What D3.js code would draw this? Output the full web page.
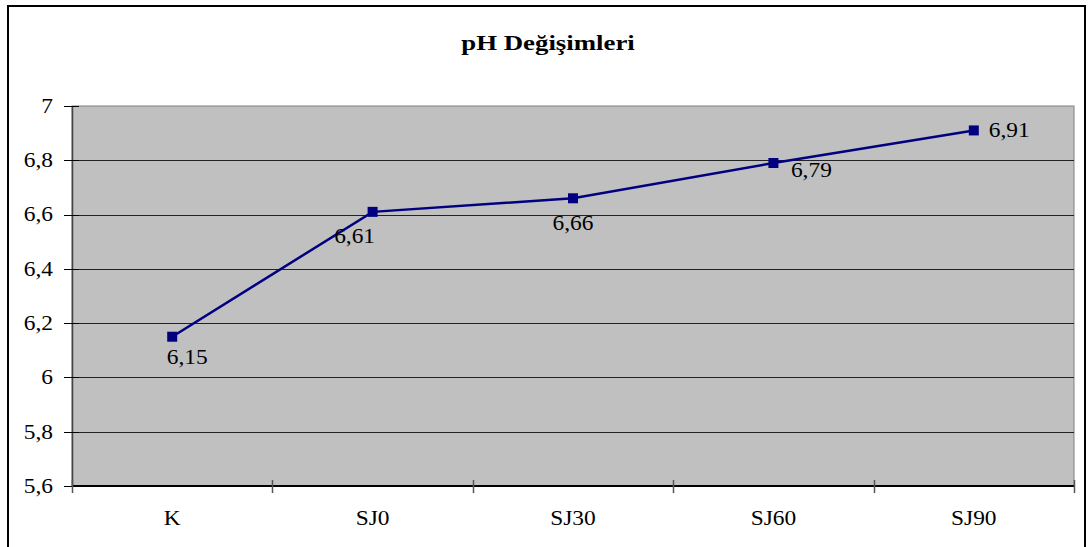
<!DOCTYPE html>
<html>
<head>
<meta charset="utf-8">
<script src="https://cdn.jsdelivr.net/npm/d3@7/dist/d3.min.js"></script>
<style>
  body { margin: 0; background: #fff; }
  svg { display: block; }
  text { font-family: "Liberation Serif", "Times New Roman", serif; fill: #000; }
</style>
</head>
<body>
<script>
const categories = ["K", "SJ0", "SJ30", "SJ60", "SJ90"];
const phValues = [6.15, 6.61, 6.66, 6.79, 6.91];
const valueLabels = ["6,15", "6,61", "6,66", "6,79", "6,91"];
const yTicks = [5.6, 5.8, 6.0, 6.2, 6.4, 6.6, 6.8, 7.0];
const yTickLabels = ["5,6", "5,8", "6", "6,2", "6,4", "6,6", "6,8", "7"];
const title = "pH Değişimleri";
// label offsets relative to each point (styling, not data)
const labelOffsets = [[15, 27, "middle"], [-18, 31, "middle"], [0, 32, "middle"], [38, 14, "middle"], [15, 7, "start"]];

const W = 1088, H = 547;
const plot = { left: 72, right: 1074, top: 106, bottom: 486 };
const SX = 1.17; // horizontal stretch of text as in the reference

function stretch(sel, sx) {
  sel.each(function () {
    const t = d3.select(this);
    const xv = +(t.attr("x") || 0);
    t.attr("x", xv / sx).attr("transform", `scale(${sx},1)`);
  });
}

const svg = d3.select("body").append("svg").attr("width", W).attr("height", H);

// outer border
svg.append("rect").attr("x", 8).attr("y", 6).attr("width", 1077).attr("height", 560)
  .attr("fill", "#fff").attr("stroke", "#000").attr("stroke-width", 2);

const tt = svg.append("text").attr("x", 548).attr("y", 50).attr("text-anchor", "middle")
  .style("font-size", "22px").style("font-weight", "bold").text(title);
stretch(tt, 1.22);

const x = d3.scaleBand().domain(categories).range([plot.left, plot.right]).padding(0);
const y = d3.scaleLinear().domain([5.6, 7]).range([plot.bottom, plot.top]);

// plot area
svg.append("rect").attr("x", plot.left).attr("y", plot.top)
  .attr("width", plot.right - plot.left).attr("height", plot.bottom - plot.top)
  .attr("fill", "#c0c0c0").attr("stroke", "#808080").attr("stroke-width", 1);

// gridlines
svg.append("g").selectAll("line").data(yTicks.filter(d => d > 5.6 && d < 7)).join("line")
  .attr("x1", plot.left).attr("x2", plot.right)
  .attr("y1", d => Math.round(y(d)) + 0.5).attr("y2", d => Math.round(y(d)) + 0.5)
  .attr("stroke", "#222").attr("stroke-width", 1);

// y axis
const yAxis = d3.axisLeft(y).tickValues(yTicks).tickFormat((d, i) => yTickLabels[i]).tickSize(0).tickPadding(19);
const gy = svg.append("g").attr("transform", `translate(${plot.left},0)`).call(yAxis);
gy.select(".domain").attr("stroke", "#444").attr("stroke-width", 1.5);
gy.selectAll("text").style("font-size", "20px").style("font-family", "Liberation Serif, serif").attr("fill", "#000");
stretch(gy.selectAll("text"), SX);
svg.append("g").selectAll("line").data(yTicks).join("line")
  .attr("x1", plot.left - 8).attr("x2", plot.left + 7)
  .attr("y1", d => Math.round(y(d)) + 0.5).attr("y2", d => Math.round(y(d)) + 0.5)
  .attr("stroke", "#000").attr("stroke-width", 1);

// x axis
const xAxis = d3.axisBottom(x).tickSize(0).tickPadding(25);
const gx = svg.append("g").attr("transform", `translate(0,${plot.bottom})`).call(xAxis);
gx.select(".domain").remove();
gx.selectAll("text").style("font-size", "20px").style("font-family", "Liberation Serif, serif").attr("fill", "#000");
stretch(gx.selectAll("text"), SX);
svg.append("line").attr("x1", plot.left).attr("x2", plot.right)
  .attr("y1", plot.bottom).attr("y2", plot.bottom).attr("stroke", "#000").attr("stroke-width", 2);
const bounds = categories.map(c => x(c)).concat([x(categories[categories.length - 1]) + x.bandwidth()]);
svg.append("g").selectAll("line").data(bounds).join("line")
  .attr("x1", d => Math.round(d) + 0.5).attr("x2", d => Math.round(d) + 0.5)
  .attr("y1", plot.bottom - 6).attr("y2", plot.bottom + 7)
  .attr("stroke", "#555").attr("stroke-width", 1.5);

// series
const cx = c => x(c) + x.bandwidth() / 2;
const line = d3.line().x((d, i) => cx(categories[i])).y(d => y(d));
svg.append("path").datum(phValues).attr("d", line)
  .attr("fill", "none").attr("stroke", "#000080").attr("stroke-width", 2.5);

svg.append("g").selectAll("rect").data(phValues).join("rect")
  .attr("x", (d, i) => cx(categories[i]) - 5).attr("y", d => y(d) - 5)
  .attr("width", 10).attr("height", 10).attr("fill", "#000080");

const lbl = svg.append("g").selectAll("text").data(phValues).join("text")
  .attr("x", (d, i) => cx(categories[i]) + labelOffsets[i][0])
  .attr("y", (d, i) => y(d) + labelOffsets[i][1])
  .attr("text-anchor", (d, i) => labelOffsets[i][2])
  .style("font-size", "20px")
  .text((d, i) => valueLabels[i]);
stretch(lbl, SX);
</script>
</body>
</html>
